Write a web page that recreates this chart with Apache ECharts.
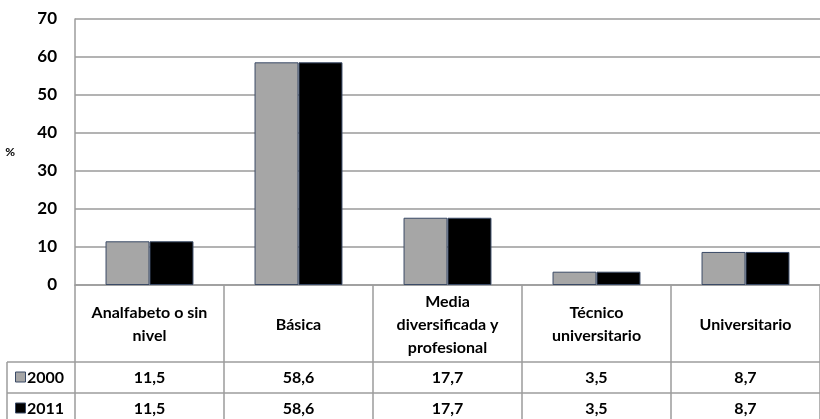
<!DOCTYPE html>
<html>
<head>
<meta charset="utf-8">
<script src="https://cdn.jsdelivr.net/npm/echarts@6/dist/echarts.min.js"></script>
<style>
  html, body { margin: 0; padding: 0; background: #fff; }
  #main { width: 820px; height: 419px; }
</style>
</head>
<body>
<div id="main"></div>
<script>
// datos del gráfico
const categories = ['Analfabeto o sin\nnivel', 'Básica', 'Media\ndiversificada y\nprofesional', 'Técnico\nuniversitario', 'Universitario'];
const seriesNames = ['2000', '2011'];
const values2000 = [11.5, 58.6, 17.7, 3.5, 8.7];
const values2011 = [11.5, 58.6, 17.7, 3.5, 8.7];
const seriesColors = ['#a6a6a6', '#000000'];

const FONT = 'Lato, "Noto Sans", sans-serif';
const LINE = '#9c9c9c';

const gridLeft = 75, gridTop = 19, plotBottom = 285, gridWidth = 755;
const headerBottom = 362, rowH = 31;

const chart = echarts.init(document.getElementById('main'));

const fmt = v => v.toFixed(1).replace('.', ',');

function makeSeries(name, data, color) {
  return {
    name: name,
    type: 'bar',
    data: data,
    barGap: '0%',
    barCategoryGap: '41%',
    itemStyle: { color: color, borderColor: '#3a4a66', borderWidth: 1 },
    silent: true
  };
}

const option = {
  animation: false,
  grid: { left: gridLeft, top: gridTop, width: gridWidth, height: plotBottom - gridTop, containLabel: false },
  xAxis: {
    type: 'category',
    data: categories,
    axisLine: { show: true, lineStyle: { color: LINE, width: 1.5 } },
    axisTick: { show: true, length: 419 - plotBottom, lineStyle: { color: LINE, width: 1.5 } },
    axisLabel: { show: false }
  },
  yAxis: {
    type: 'value',
    min: 0, max: 70, interval: 10,
    name: '%',
    nameLocation: 'middle',
    nameRotate: 0,
    nameGap: 60,
    nameTextStyle: { fontFamily: FONT, fontWeight: 'bold', fontSize: 12, color: '#000', padding: [0, 0, 40, 0] },
    axisLine: { show: true, lineStyle: { color: LINE, width: 1.5 } },
    axisTick: { show: false },
    axisLabel: { margin: 18, fontFamily: FONT, fontWeight: 'bold', fontSize: 17, color: '#000' },
    splitLine: { lineStyle: { color: '#9a9a9a', width: 1.5 } }
  },
  series: [
    makeSeries(seriesNames[0], values2000, seriesColors[0]),
    makeSeries(seriesNames[1], values2011, seriesColors[1])
  ]
};
chart.setOption(option);

// tabla de datos bajo el gráfico
function buildTable() {
  const els = [];
  const rows = [values2000, values2011];

  // líneas horizontales de la tabla
  for (let r = 0; r < rows.length; r++) {
    const y = headerBottom + r * rowH;
    els.push({ type: 'line', shape: { x1: 7, y1: y, x2: 820, y2: y }, style: { stroke: LINE, lineWidth: 1.5 } });
  }
  els.push({ type: 'line', shape: { x1: 7, y1: headerBottom, x2: 7, y2: 419 }, style: { stroke: LINE, lineWidth: 1.5 } });

  // encabezados
  categories.forEach((c, i) => {
    const cx = chart.convertToPixel({ xAxisIndex: 0 }, i);
    els.push({
      type: 'text',
      x: cx, y: (plotBottom + headerBottom) / 2 + 1,
      style: { text: c, fontFamily: FONT, fontWeight: 'bold', fontSize: 16, lineHeight: 23, fill: '#000', align: 'center', verticalAlign: 'middle' }
    });
  });

  // filas de valores y leyenda
  rows.forEach((vals, r) => {
    const cy = headerBottom + r * rowH + rowH / 2;
    els.push({ type: 'rect', shape: { x: 15.5, y: cy - 5.5, width: 10, height: 10 }, style: { fill: seriesColors[r], stroke: '#3a4a66', lineWidth: 1 } });
    els.push({ type: 'text', x: 27, y: cy, style: { text: seriesNames[r], fontFamily: FONT, fontWeight: 'bold', fontSize: 16, fill: '#000', align: 'left', verticalAlign: 'middle' } });
    vals.forEach((v, i) => {
      const cx = chart.convertToPixel({ xAxisIndex: 0 }, i);
      els.push({ type: 'text', x: cx, y: cy, style: { text: fmt(v), fontFamily: FONT, fontWeight: 'bold', fontSize: 16, fill: '#000', align: 'center', verticalAlign: 'middle' } });
    });
  });

  chart.setOption({ graphic: { elements: els } });
}
buildTable();
</script>
</body>
</html>
